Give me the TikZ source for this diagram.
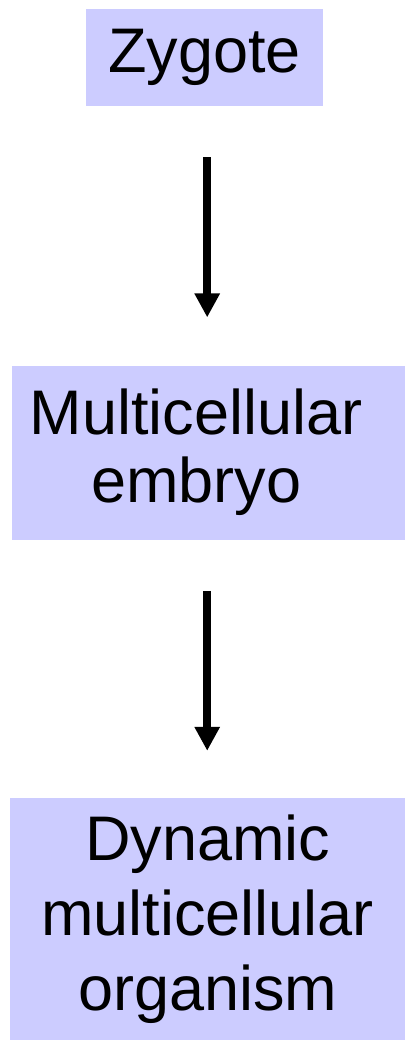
\documentclass[tikz,border=0pt]{standalone}
\usepackage{fontspec}
\setmainfont{Liberation Sans}
\usepackage{tikz}
\usetikzlibrary{arrows.meta, positioning}
\definecolor{boxfill}{RGB}{204,204,255}

\begin{document}
\begin{tikzpicture}[
    x=1pt, y=1pt,
    stage/.style={rectangle, fill=boxfill, text centered, align=center, inner sep=0pt, font=\fontsize{63}{68}\selectfont},
    arrow/.style={line width=8pt, -{Triangle[width=24pt,length=24pt]}}
]
\useasboundingbox (0,0) rectangle (405,-1046);

% Stages of development
\node (zygote) [stage, minimum width=237pt, minimum height=97pt, anchor=north west] at (86,-9) {Zygote};
\node (embryo) [stage, minimum width=393pt, minimum height=174pt, below=259pt of zygote.south, xshift=4pt] {Multicellular\hspace*{0.4em}\\embryo\hspace*{0.4em}};
\node (organism) [stage, minimum width=395pt, minimum height=242pt, below=258pt of embryo.south, xshift=-1pt, font=\fontsize{63}{75}\selectfont] {Dynamic\\multicellular\hspace*{0.4em}\\organism};

% Arrows
\draw [arrow, shorten <=51pt, shorten >=48pt] ([xshift=2.5pt]zygote.south) -- ([xshift=2.5pt]zygote.south |- embryo.north);
\draw [arrow, shorten <=51pt, shorten >=47pt] ([xshift=-1.5pt]embryo.south) -- ([xshift=-1.5pt]embryo.south |- organism.north);

\end{tikzpicture}
\end{document}
